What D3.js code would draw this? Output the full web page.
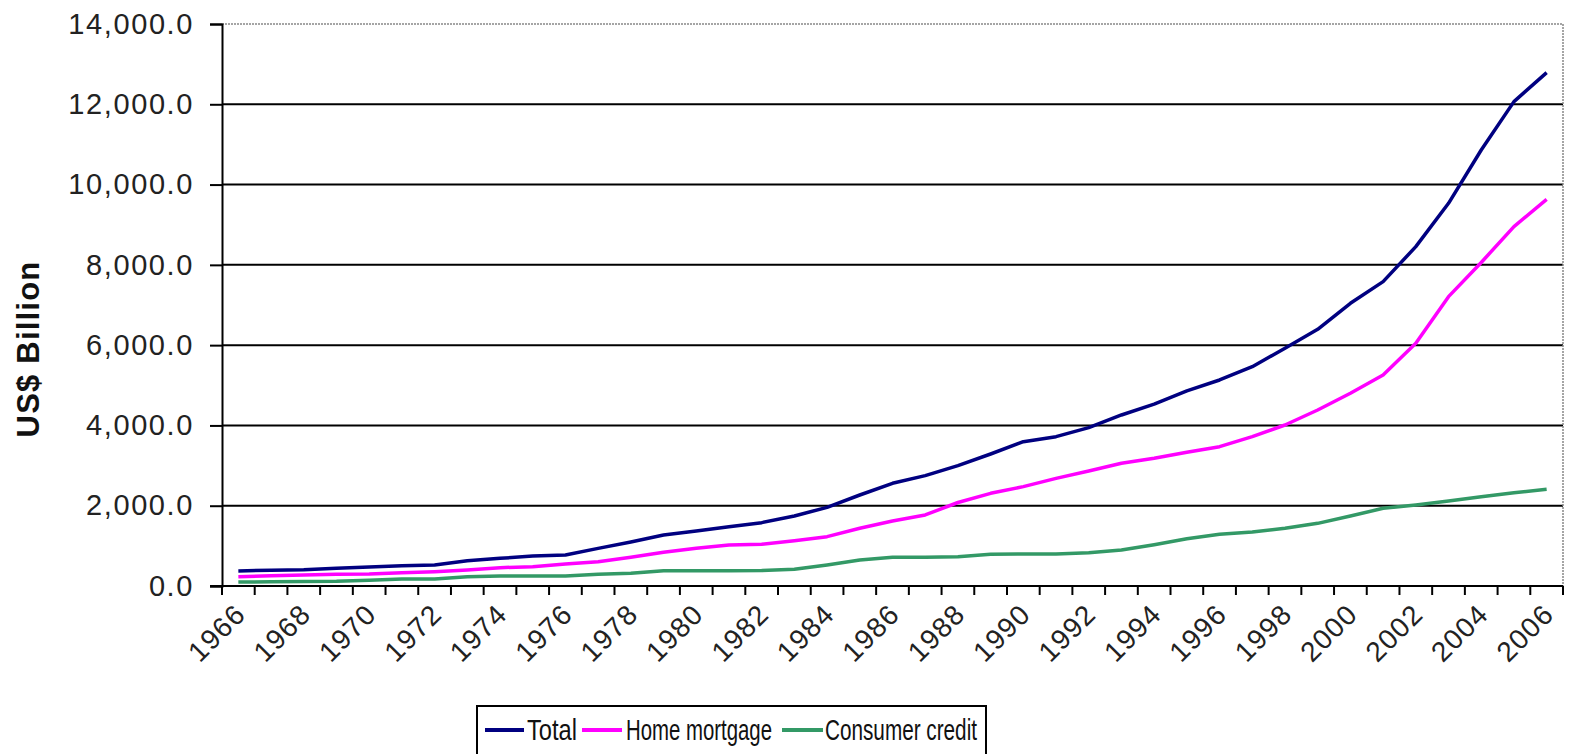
<!DOCTYPE html>
<html>
<head>
<meta charset="utf-8">
<style>
  body { margin: 0; background: #fff; }
  svg { display: block; font-family: Arial, "Liberation Sans", sans-serif; }
</style>
</head>
<body>
<script src="https://d3js.org/d3.v7.min.js"></script>
<svg id="chart" width="1570" height="754"></svg>
<script>
  const years = d3.range(1966, 2007);

  const total = [374, 395, 405, 440, 473, 507, 523, 631, 689, 747, 772, 938, 1096, 1270, 1370,
    1478, 1578, 1744, 1960, 2267, 2558, 2749, 2998, 3288, 3596, 3720, 3945, 4260, 4530, 4860,
    5132, 5464, 5921, 6394, 7042, 7582, 8454, 9533, 10862, 12066, 12789];

  const homeMortgage = [232, 257, 274, 291, 300, 332, 357, 399, 457, 482, 548, 606, 714, 839, 938,
    1021, 1038, 1129, 1229, 1437, 1619, 1769, 2080, 2309, 2475, 2682, 2865, 3056, 3180, 3330,
    3471, 3720, 4011, 4385, 4800, 5257, 6046, 7208, 8060, 8952, 9633];

  const consumerCredit = [100, 105, 110, 116, 141, 174, 174, 232, 249, 249, 252, 291, 316, 382, 382,
    382, 385, 415, 523, 648, 714, 714, 731, 789, 797, 797, 830, 897, 1030, 1175,
    1290, 1345, 1437, 1561, 1744, 1935, 2018, 2118, 2225, 2325, 2408];

  const yTicks = [0, 2000, 4000, 6000, 8000, 10000, 12000, 14000];
  const labelYears = years.filter((d) => (d - 1966) % 2 === 0);

  const series = [
    { name: 'Total', values: total, color: '#000080' },
    { name: 'Home mortgage', values: homeMortgage, color: '#ff00ff' },
    { name: 'Consumer credit', values: consumerCredit, color: '#339966' },
  ];

  const plotLeft = 222, plotRight = 1563, plotTop = 24, plotBottom = 586;
  const svg = d3.select('#chart');

  const x = d3.scalePoint().domain(years).range([plotLeft, plotRight]).padding(0.5);
  const y = d3.scaleLinear().domain([0, 14000]).range([plotBottom, plotTop]);
  const step = x.step();

  // grid lines
  svg.append('g')
    .selectAll('line')
    .data(yTicks.filter((d) => d > 0 && d < 14000))
    .enter()
    .append('line')
    .attr('x1', plotLeft).attr('x2', plotRight)
    .attr('y1', (d) => y(d)).attr('y2', (d) => y(d))
    .attr('stroke', '#000').attr('stroke-width', 2);

  // plot border top/right (grey dotted)
  svg.append('path')
    .attr('d', `M${plotLeft},${y(14000)}H${plotRight}V${plotBottom}`)
    .attr('fill', 'none')
    .attr('stroke', '#888')
    .attr('stroke-width', 1.5)
    .attr('stroke-dasharray', '2,1');

  // y axis
  const yAxis = svg.append('g')
    .attr('transform', `translate(${plotLeft},0)`)
    .call(d3.axisLeft(y).tickValues(yTicks).tickSize(12).tickPadding(16)
      .tickFormat(d3.format(',.1f')));
  yAxis.select('.domain').attr('stroke', '#000').attr('stroke-width', 2);
  yAxis.selectAll('.tick line').attr('stroke', '#000').attr('stroke-width', 2);
  yAxis.selectAll('.tick text')
    .attr('font-size', 29)
    .attr('letter-spacing', 1.6)
    .attr('fill', '#222')
    .attr('font-family', 'Arial, "Liberation Sans", sans-serif');

  // x axis
  const boundaries = years.map((d) => x(d) - step / 2).concat([x(years[years.length - 1]) + step / 2]);
  svg.append('line')
    .attr('x1', plotLeft - 12).attr('x2', plotRight)
    .attr('y1', plotBottom).attr('y2', plotBottom)
    .attr('stroke', '#000').attr('stroke-width', 2);
  svg.append('g')
    .selectAll('line')
    .data(boundaries)
    .enter()
    .append('line')
    .attr('x1', (d) => d).attr('x2', (d) => d)
    .attr('y1', plotBottom).attr('y2', plotBottom + 9)
    .attr('stroke', '#000').attr('stroke-width', 2);

  svg.append('g')
    .selectAll('text')
    .data(labelYears)
    .enter()
    .append('text')
    .text((d) => d)
    .attr('transform', (d) => `translate(${x(d) + 2},${plotBottom + 23}) rotate(-45)`)
    .attr('text-anchor', 'end')
    .attr('dy', '0.35em')
    .attr('font-size', 28)
    .attr('letter-spacing', 1.2)
    .attr('fill', '#222');

  // y axis title
  svg.append('text')
    .text('US$ Billion')
    .attr('transform', `translate(39,${(plotTop + plotBottom) / 2 + 44}) rotate(-90)`)
    .attr('text-anchor', 'middle')
    .attr('font-size', 31)
    .attr('font-weight', 'bold')
    .attr('letter-spacing', 1.2)
    .attr('fill', '#111');

  // lines
  const line = d3.line()
    .x((d, i) => x(years[i]))
    .y((d) => y(d));

  svg.append('g')
    .selectAll('path')
    .data(series)
    .enter()
    .append('path')
    .attr('d', (d) => line(d.values))
    .attr('fill', 'none')
    .attr('stroke', (d) => d.color)
    .attr('stroke-width', 3.5)
    .attr('stroke-linejoin', 'round');

  // legend
  const legend = svg.append('g');
  legend.append('rect')
    .attr('x', 477).attr('y', 706)
    .attr('width', 509).attr('height', 60)
    .attr('fill', '#fff')
    .attr('stroke', '#000')
    .attr('stroke-width', 2);

  const legendItems = [
    { x1: 485, x2: 524, tx: 527, tl: 50 },
    { x1: 582, x2: 622, tx: 626, tl: 146 },
    { x1: 782, x2: 823, tx: 825, tl: 152 },
  ];

  legend.selectAll('line')
    .data(series)
    .enter()
    .append('line')
    .attr('x1', (d, i) => legendItems[i].x1)
    .attr('x2', (d, i) => legendItems[i].x2)
    .attr('y1', 730).attr('y2', 730)
    .attr('stroke', (d) => d.color)
    .attr('stroke-width', 4);

  legend.selectAll('text')
    .data(series)
    .enter()
    .append('text')
    .text((d) => d.name)
    .attr('x', (d, i) => legendItems[i].tx)
    .attr('y', 740)
    .attr('font-size', 29)
    .attr('textLength', (d, i) => legendItems[i].tl)
    .attr('lengthAdjust', 'spacingAndGlyphs')
    .attr('fill', '#111');
</script>
</body>
</html>
